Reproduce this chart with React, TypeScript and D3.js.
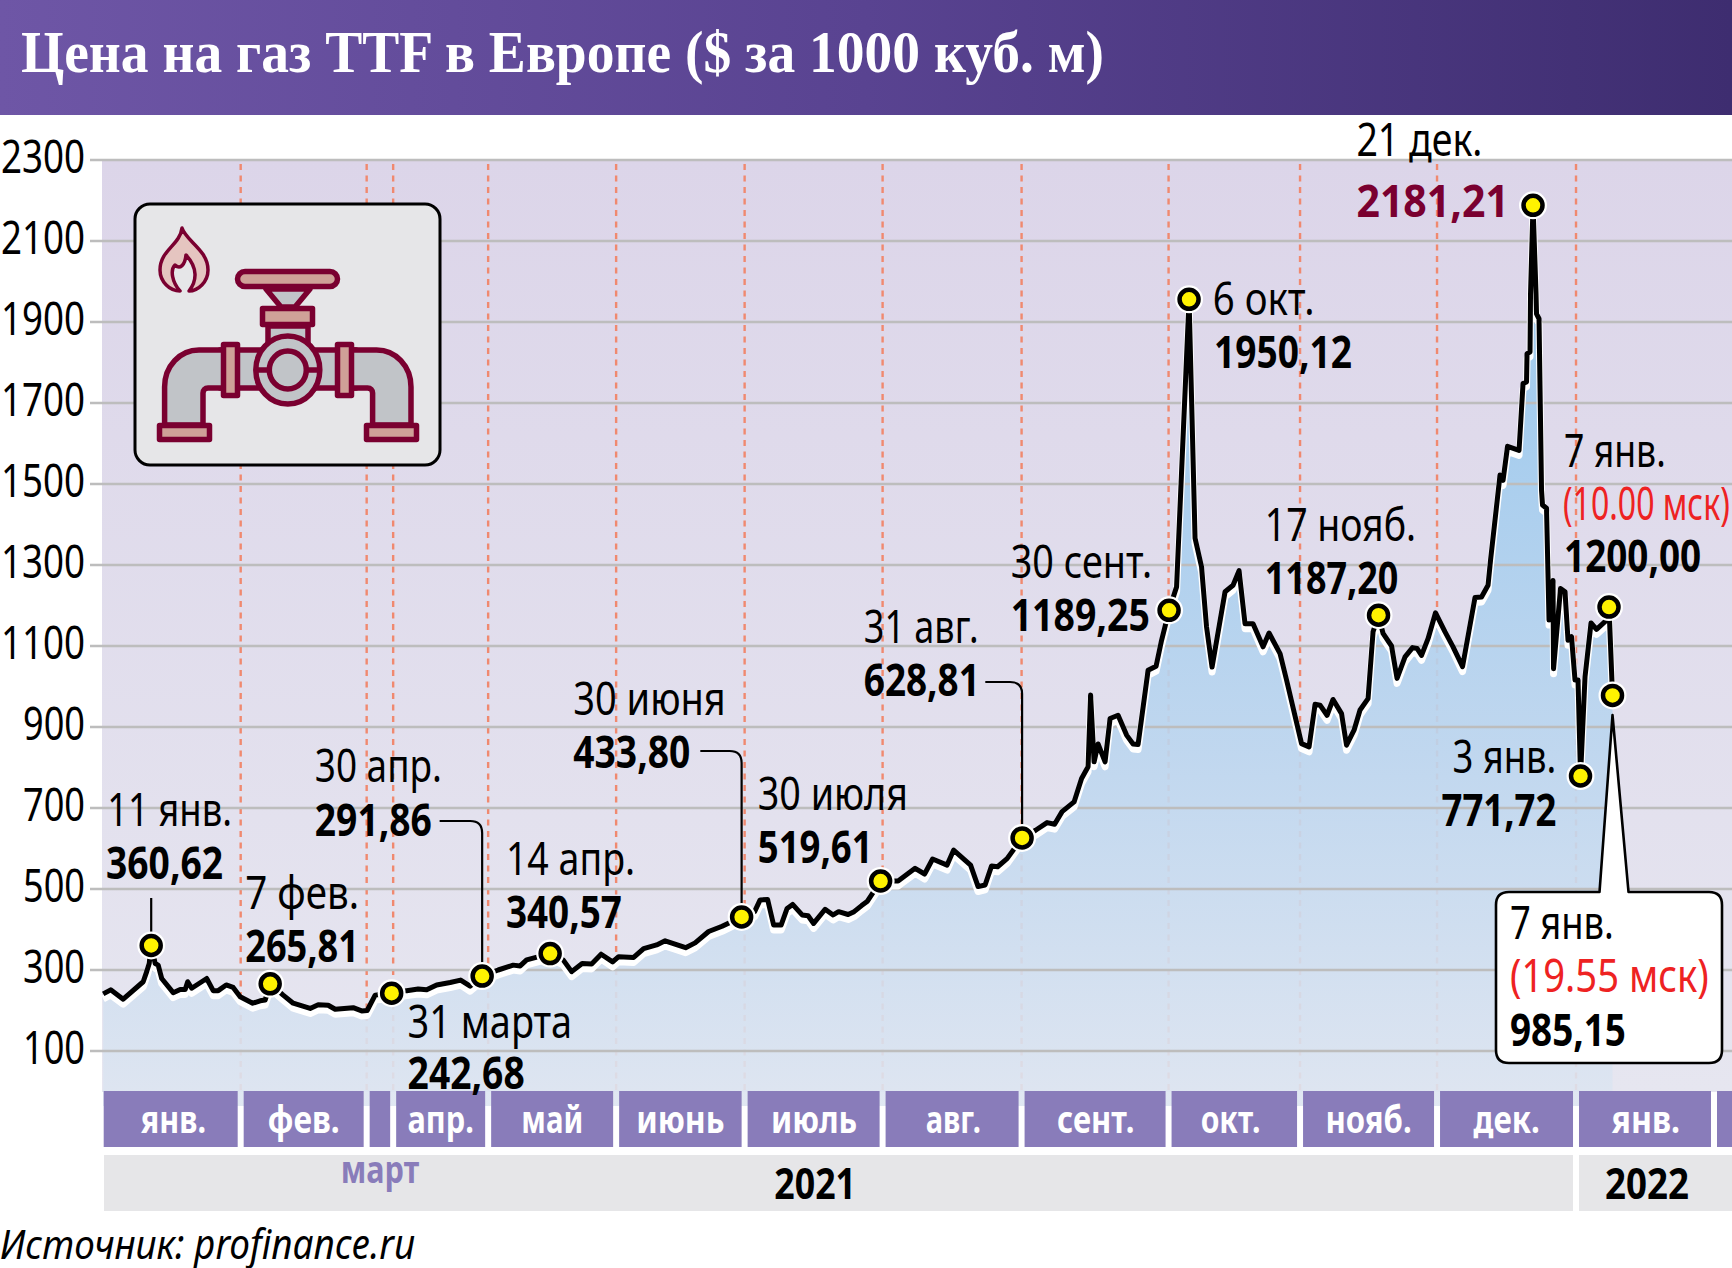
import React from "react";
import * as d3 from "d3";

// ---------- data ----------
const yTicks = [100, 300, 500, 700, 900, 1100, 1300, 1500, 1700, 1900, 2100, 2300];
const monthNames = ["янв.", "фев.", "", "апр.", "май", "июнь", "июль", "авг.", "сент.", "окт.", "нояб.", "дек.", "янв."];
// month starts on the chart's own time axis (about one trading step each)
const monthStarts = [0, 27.6, 52.8, 58.1, 77.1, 102.7, 128.4, 156.0, 183.8, 213.2, 239.5, 266.9, 294.7, 322.3];
const steps = [
  0.1, 1.6, 4.1, 8.1, 8.8, 9.3, 9.7, 10.5, 11.1, 11.8, 14.1, 15.5, 16.5, 17, 17.8, 20.8, 22.1, 23.1, 24.7, 26.1, 27.5, 30, 31.5, 32.5, 33.5, 36.1, 38.1, 41.5, 43.1, 45.1, 46.5, 50.1, 51.8, 52.9, 54.5, 57.8,
  60.8, 63.1, 64.8, 66.8, 69.5, 71.6, 73.5, 75.9, 79.1, 82.1, 83.5, 84.8, 89.5, 92.1, 93.8, 95.9, 97.8, 99.7, 102, 103.2, 106.2, 108.2, 110.8, 112.5, 116.6, 118.5, 121.2, 123.9, 127.8,
  130.4, 131.5, 133, 134.2, 135.7, 136.9, 138, 139.9, 141.1, 142.2, 144.5, 146.1, 147.2, 149.1, 150.3, 151.8, 152.9, 155.6, 159.1, 162.5, 164.4, 166, 168.9, 170.2, 173.6, 175.1, 176.5, 177.8, 179, 180.9, 183.9,
  186.6, 188.9, 190.4, 191.9, 194.3, 195.8, 197.1, 197.6, 198.3, 199.1, 200.5, 201.5, 203.1, 204.8, 206.1, 207.1, 209.1, 210.7, 211.8, 213.3, 214.8, 217.3, 218.5, 219.8, 220.8, 221.9, 224.5, 226.1, 227.3, 228.5, 230.1, 232.1, 233.3, 235.5, 236.8,
  239.8, 241.3, 242.5, 243.5, 244.9, 246.1, 247.8, 248.8, 250.3, 251.5, 253.1, 254.1, 255.2, 256.1, 257.8, 258.9, 260.5, 262, 262.9, 263.8, 265.1, 266.6, 268.5, 270.1, 272, 274.5, 275.8, 277.1, 277.6,
  279.5, 280.1, 281, 283.3, 284.1, 284.8, 284.9, 285.5, 285.6, 286.1, 286.7, 286.8, 287.3, 287.8, 288, 288.8, 289.3, 290.1, 290.2, 291.6, 292.5, 293.1, 293.8, 294.5, 295.1, 295.6, 296.5, 297.7, 298.8, 300.5, 301.3, 302,
];
const prices = [
  241, 251, 228, 271, 296, 316, 360.62, 316, 312, 279, 244, 252, 252, 271, 255, 279, 249, 249, 263, 257, 234, 218, 224, 226, 265.81, 238, 218, 205, 214, 213, 203, 207, 199, 200, 238, 242.68,
  249, 253, 251, 263, 269, 275, 260, 285, 300, 312, 310, 325, 340.57, 325, 296, 316, 315, 339, 320, 333, 331, 353, 362, 372, 355, 367, 395, 408, 431,
  444, 473, 474, 411, 411, 452, 462, 436, 434, 415, 450, 436, 444, 437, 444, 459, 469, 519.61, 520, 551, 537, 574, 559, 596, 559, 506, 510, 557, 555, 575, 626,
  645, 664, 660, 691, 715, 773, 802, 979, 814, 858, 814, 921, 929, 880, 858, 857, 1040, 1050, 1114, 1188, 1246, 1956, 1366, 1295, 1147, 1048, 1234, 1250, 1286, 1155, 1155, 1098, 1132, 1081, 1016,
  859, 851, 956, 954, 929, 968, 933, 855, 892, 942, 970, 1135, 1176, 1131, 1100, 1020, 1073, 1096, 1094, 1077, 1118, 1182, 1135, 1098, 1049, 1220, 1221, 1250, 1312,
  1522, 1509, 1593, 1583, 1748, 1752, 1822, 1826, 1970, 2188, 1970, 1920, 1908, 1485, 1448, 1440, 1164, 1262, 1044, 1242, 1234, 1114, 1123, 1016, 1016, 779, 1024, 1157, 1141, 1160, 1196, 978,
];
const markerSteps = [9.7, 33.5, 57.8, 75.9, 89.5, 127.8, 155.6, 183.9, 213.3, 217.3, 255.2, 286.1, 295.6, 301.3, 302];
const series = steps.map((s, i) => ({ s, p: prices[i] }));

// ---------- layout ----------
const W = 1732, H = 1268;
const k = 1732 / 1568;
const x = d3.scaleLinear().domain([0, 322.3]).range([102.7, 1714]);
const y = d3.scaleLinear().domain([100, 2300]).range([1051, 160]);
const FONT = "'Noto Sans', sans-serif";

const lineGen = d3.line<{ s: number; p: number }>().x(d => x(d.s)).y(d => y(d.p)).curve(d3.curveLinear);
const areaGen = d3.area<{ s: number; p: number }>().x(d => x(d.s)).y1(d => y(d.p)).y0(1100).curve(d3.curveLinear);

type Lab = [string, number, number, number, boolean, string?];
// text, left x, baseline, right x (all in reference-view px), bold, colour
const labels: Lab[] = [
  ["11 янв.", 97, 748, 210, false], ["360,62", 96, 796, 202, true],
  ["7 фев.", 222, 823, 325, false], ["265,81", 222, 871, 325, true],
  ["30 апр.", 285, 708, 400, false], ["291,86", 285, 757, 391, true],
  ["31 марта", 369, 940, 518, false], ["242,68", 369, 986, 475, true],
  ["14 апр.", 458, 792, 575, false], ["340,57", 458, 840, 563, true],
  ["30 июня", 519, 647, 657, false], ["433,80", 519, 695, 625, true],
  ["30 июля", 686, 733, 822, false], ["519,61", 686, 781, 790, true],
  ["31 авг.", 782, 582, 886, false], ["628,81", 782, 630, 887, true],
  ["30 сент.", 915, 523, 1043, false], ["1189,25", 915, 571, 1041, true],
  ["6 окт.", 1098, 285, 1190, false], ["1950,12", 1099, 333, 1224, true],
  ["17 нояб.", 1145, 490, 1282, false], ["1187,20", 1145, 538, 1266, true],
  ["21 дек.", 1228, 141, 1342, false], ["2181,21", 1228, 196, 1366, true, "#7a0030"],
  ["7 янв.", 1416, 423, 1508, false], ["(10.00 мск)", 1415, 471, 1566, false, "#ee2222"], ["1200,00", 1416, 518, 1540, true],
  ["3 янв.", 1315, 700, 1409, false], ["771,72", 1305, 748, 1409, true],
];
const calloutLabels: Lab[] = [
  ["7 янв.", 1367, 850, 1461, false], ["(19.55 мск)", 1367, 898, 1547, false, "#ee2222"], ["985,15", 1367, 947, 1472, true],
];
const monthLabelWidths = [59, 65, 0, 60, 56, 80, 78, 50, 70, 54, 78, 60, 62];
const monthLabelCenters = [157, 275, 0, 399, 500, 616, 737, 863, 992, 1114, 1239, 1364, 1490];

function Lbl({ l }: { l: Lab }) {
  const [t, a, b, c, bold, col] = l;
  return (
    <text x={a * k} y={b * k} fontFamily={FONT} fontSize={45} fontWeight={bold ? 700 : 400} fill={col || "#000"}
      textLength={(c - a) * k} lengthAdjust="spacingAndGlyphs">{t}</text>
  );
}

function leader(mx: number, my: number, x0: number, yh: number) {
  const r = 12;
  return `M${x0},${yh}H${mx - r}Q${mx},${yh} ${mx},${yh + r}V${my}`;
}

function Icon() {
  const M = "#7a0030", P = "#cfa198", G = "#c1c4c8", sw = 5.5;
  const cx = 287.8;
  const pipe = "M164.6,425V387C164.6,366 180,350 199,350H225V388H208C205,388 203,390 203,393V425Z";
  return (
    <g stroke={M} strokeWidth={sw} strokeLinejoin="round">
      <rect x={135} y={204} width={305} height={261} rx={15} fill="#e6e6e8" stroke="#000" strokeWidth={3} />
      <path d="M182,228C186,241 208,250 208,270C208,282 198,291 189,291C197,281 198,268 186,255C185,265 180,270 175,265C170,270 172,282 180,291C170,291 160,282 160,270C160,250 180,245 182,228Z" fill="#e5c5c0" strokeWidth={3.5} />
      <path d="M266,289H310L295,307H281Z" fill={G} />
      <rect x={268} y={326} width={40} height={22} fill={G} />
      <rect x={220} y={350} width={136} height={38} fill={G} />
      <path d={pipe} fill={G} />
      <path d={pipe} fill={G} transform={`translate(${2 * cx},0) scale(-1,1)`} />
      <rect x={237.5} y={271.5} width={100} height={15} rx={7.5} fill={P} />
      <rect x={262.5} y={308.5} width={50} height={16} fill={P} />
      <rect x={223.5} y={344.5} width={14} height={51} fill={P} />
      <rect x={337.5} y={344.5} width={14} height={51} fill={P} />
      <ellipse cx={cx} cy={370} rx={32} ry={34} fill={G} />
      <ellipse cx={cx} cy={370} rx={18.5} ry={19} fill={G} />
      <path d={`M${cx - 32},370H${cx - 18}M${cx + 18},370H${cx + 32}`} fill="none" />
      <rect x={159.5} y={425.5} width={50} height={14} fill={P} />
      <rect x={366.5} y={425.5} width={50} height={14} fill={P} />
    </g>
  );
}

export default function App() {
  const markers = markerSteps.map(s => series.find(d => d.s === s)!);
  const mm = (s: number) => { const d = series.find(e => e.s === s)!; return [x(d.s), y(d.p)]; };
  const boundaries = monthStarts.slice(1, 13).map(m => x(m));
  const barEdges = monthStarts.map(m => x(m));
  const [m1x, m1y] = mm(9.7), [m4x, m4y] = mm(75.9), [m6x, m6y] = mm(127.8), [m8x, m8y] = mm(183.9);
  const tipX = x(302);
  return (
    <svg width={W} height={H} viewBox={`0 0 ${W} ${H}`} style={{ position: "absolute", left: 0, top: 0, background: "#fff" }}>
      <defs>
        <linearGradient id="head" x1="0" x2="1" y1="0" y2="0">
          <stop offset="0" stopColor="#6e56a6" /><stop offset="0.5" stopColor="#594391" /><stop offset="1" stopColor="#3e2d70" />
        </linearGradient>
        <linearGradient id="bg" x1="0" x2="0" y1="0" y2="1">
          <stop offset="0" stopColor="#dcd5e9" /><stop offset="1" stopColor="#e6e6f0" />
        </linearGradient>
        <linearGradient id="blue" gradientUnits="userSpaceOnUse" x1="0" x2="0" y1="400" y2="1090">
          <stop offset="0" stopColor="#9fcbee" /><stop offset="0.5" stopColor="#bcd6ef" /><stop offset="1" stopColor="#dde5f1" />
        </linearGradient>
      </defs>

      <rect width={W} height={115} fill="url(#head)" />
      <text x={21} y={72} fontFamily="'Liberation Serif', serif" fontWeight={700} fontSize={60} fill="#fff"
        textLength={1083} lengthAdjust="spacingAndGlyphs">Цена на газ TTF в Европе ($ за 1000 куб. м)</text>

      <rect x={102} y={160} width={W - 102} height={932} fill="url(#bg)" />

      {boundaries.map((b, i) => (
        <line key={i} x1={b} x2={b} y1={164} y2={1090} stroke="#f0896f" strokeWidth={2.4} strokeDasharray="6 5.5" />
      ))}

      <g transform="translate(0,6)">
        <path d={areaGen(series)!} fill="url(#blue)" fillOpacity={0.9} />
      </g>

      {yTicks.map(t => (
        <g key={t}>
          <line x1={90} x2={W} y1={y(t)} y2={y(t)} stroke="#bdbdbd" strokeWidth={2.4} />
          <text x={85} y={y(t) + 13} textAnchor="end" fontFamily={FONT} fontSize={45}
            textLength={String(t).length === 4 ? 84 : 62} lengthAdjust="spacingAndGlyphs">{t}</text>
        </g>
      ))}

      <g transform="translate(0,5)">
        <path d={lineGen(series)!} fill="none" stroke="#fff" strokeWidth={7} strokeLinejoin="round" />
      </g>
      <path d={lineGen(series)!} fill="none" stroke="#000" strokeWidth={5} strokeLinejoin="round" />

      <Icon />

      {/* month bar */}
      {monthNames.map((m, i) => {
        const left = barEdges[i] + (i === 0 ? 1 : 3);
        const right = barEdges[i + 1] - 3;
        return <rect key={i} x={left} y={1091} width={right - left} height={56} fill="#897cba" />;
      })}
      <rect x={barEdges[13] + 3} y={1091} width={W - barEdges[13] - 3} height={56} fill="#897cba" />
      {monthNames.map((m, i) => m && (
        <text key={i} x={monthLabelCenters[i] * k} y={1133} textAnchor="middle" fontFamily={FONT} fontWeight={700} fontSize={38} fill="#fff"
          textLength={monthLabelWidths[i] * k} lengthAdjust="spacingAndGlyphs">{m}</text>
      ))}

      {/* leader lines */}
      <g fill="none" stroke="#000" strokeWidth={2.2}>
        <path d={`M${m1x},898V${m1y}`} />
        <path d={leader(m4x, m4y, 398 * k, 821)} />
        <path d={leader(m6x, m6y, 634 * k, 751)} />
        <path d={leader(m8x, m8y, 892 * k, 682)} />
      </g>

      {markers.map(d => (
        <circle key={d.s} cx={x(d.s)} cy={y(d.p)} r={14} fill="#fff" />
      ))}
      {markers.map(d => (
        <circle key={d.s} cx={x(d.s)} cy={y(d.p)} r={9.5} fill="#fff200" stroke="#000" strokeWidth={4.5} />
      ))}

      {labels.map((l, i) => <Lbl key={i} l={l} />)}

      {/* callout */}
      <path d={`M1509,892H${tipX - 13}L${tipX},715L${tipX + 16},892H1709Q1722,892 1722,905V1050Q1722,1063 1709,1063H1509Q1496,1063 1496,1050V905Q1496,892 1509,892Z`}
        fill="#fff" stroke="#000" strokeWidth={2.6} strokeLinejoin="round" />
      {calloutLabels.map((l, i) => <Lbl key={i} l={l} />)}

      {/* year bar */}
      <rect x={104} y={1155} width={x(294.7) - 3 - 104} height={56} fill="#e6e6e8" />
      <rect x={x(294.7) + 3} y={1155} width={W - x(294.7) - 3} height={56} fill="#e6e6e8" />
      <text x={344 * k} y={1183} textAnchor="middle" fontFamily={FONT} fontWeight={700} fontSize={38} fill="#897cba"
        textLength={71 * k} lengthAdjust="spacingAndGlyphs">март</text>
      <text x={738 * k} y={1199} textAnchor="middle" fontFamily={FONT} fontWeight={700} fontSize={43}
        textLength={74 * k} lengthAdjust="spacingAndGlyphs">2021</text>
      <text x={1491 * k} y={1199} textAnchor="middle" fontFamily={FONT} fontWeight={700} fontSize={43}
        textLength={76 * k} lengthAdjust="spacingAndGlyphs">2022</text>

      <text x={0} y={1259} fontFamily={FONT} fontStyle="italic" fontSize={41} fill="#000"
        textLength={376 * k} lengthAdjust="spacingAndGlyphs">Источник: profinance.ru</text>
    </svg>
  );
}
